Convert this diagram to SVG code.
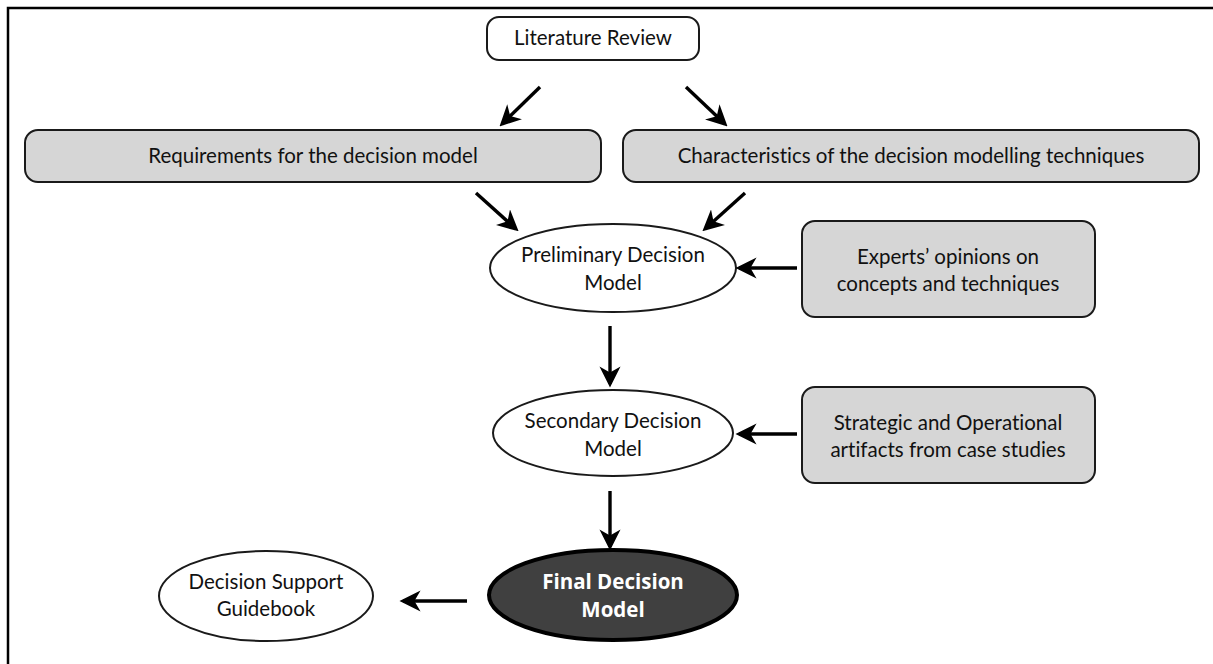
<svg xmlns="http://www.w3.org/2000/svg" width="1213" height="664" viewBox="0 0 1213 664">
  <defs>
    <marker id="head" viewBox="0 0 12 12" refX="10" refY="6" markerWidth="6.2" markerHeight="6.2" orient="auto" markerUnits="strokeWidth">
      <path d="M0,0 L12,6 L0,12 L3.5,6 z" fill="#000"/>
    </marker>
  </defs>
  <style>
    .box { stroke: #1a1a1a; stroke-width: 2; }
    .plain { fill: #ffffff; }
    .grey { fill: #d6d6d6; }
    .lbl { font-family: "Lato", "Liberation Sans", sans-serif; font-size: 20.5px; fill: #111; text-anchor: middle; font-variant-ligatures: none; }
    .final { font-family: "Open Sans", "DejaVu Sans", sans-serif; font-weight: bold; font-size: 20.5px; fill: #ffffff; text-anchor: middle; }
    .conn { stroke: #000; stroke-width: 3.4; fill: none; marker-end: url(#head); }
  </style>
  <rect width="1213" height="664" fill="#ffffff"/>
  <!-- frame: only the top and left edges fall inside the canvas -->
  <path d="M8,664 L8,8 L1213,8" fill="none" stroke="#000" stroke-width="2.5"/>

  <g id="literature-review">
    <rect class="box plain" x="487" y="17" width="212" height="43" rx="12"/>
    <text class="lbl" x="593" y="45">Literature Review</text>
  </g>
  <g id="requirements">
    <rect class="box grey" x="25" y="130" width="576" height="52" rx="13"/>
    <text class="lbl" x="313" y="163">Requirements for the decision model</text>
  </g>
  <g id="characteristics">
    <rect class="box grey" x="623" y="130" width="576" height="52" rx="13"/>
    <text class="lbl" x="911" y="163">Characteristics of the decision modelling techniques</text>
  </g>
  <g id="preliminary-model">
    <ellipse class="box plain" cx="613" cy="268" rx="123" ry="44"/>
    <text class="lbl" x="613" y="262">Preliminary Decision</text>
    <text class="lbl" x="613" y="290">Model</text>
  </g>
  <g id="experts">
    <rect class="box grey" x="802" y="221" width="293" height="96" rx="13"/>
    <text class="lbl" x="948" y="264">Experts’ opinions on</text>
    <text class="lbl" x="948" y="291">concepts and techniques</text>
  </g>
  <g id="secondary-model">
    <ellipse class="box plain" cx="613" cy="433" rx="120" ry="43"/>
    <text class="lbl" x="613" y="428">Secondary Decision</text>
    <text class="lbl" x="613" y="456">Model</text>
  </g>
  <g id="case-studies">
    <rect class="box grey" x="802" y="387" width="293" height="96" rx="13"/>
    <text class="lbl" x="948" y="430">Strategic and Operational</text>
    <text class="lbl" x="948" y="457">artifacts from case studies</text>
  </g>
  <g id="final-model">
    <ellipse cx="613" cy="595" rx="124" ry="45" fill="#404040" stroke="#000" stroke-width="4"/>
    <text class="final" x="613" y="589">Final Decision</text>
    <text class="final" x="613" y="617">Model</text>
  </g>
  <g id="guidebook">
    <ellipse class="box plain" cx="266" cy="596" rx="107" ry="45"/>
    <text class="lbl" x="266" y="589">Decision Support</text>
    <text class="lbl" x="266" y="616">Guidebook</text>
  </g>

  <g id="connectors">
    <line class="conn" x1="540" y1="87" x2="502" y2="124"/>
    <line class="conn" x1="686" y1="87" x2="725" y2="124"/>
    <line class="conn" x1="476" y1="193" x2="516" y2="229"/>
    <line class="conn" x1="745" y1="193" x2="705" y2="229"/>
    <line class="conn" x1="797" y1="268" x2="739" y2="268"/>
    <line class="conn" x1="610" y1="326" x2="610" y2="384"/>
    <line class="conn" x1="797" y1="434" x2="739" y2="434"/>
    <line class="conn" x1="610" y1="491" x2="610" y2="547"/>
    <line class="conn" x1="467" y1="601" x2="403" y2="601"/>
  </g>
</svg>
